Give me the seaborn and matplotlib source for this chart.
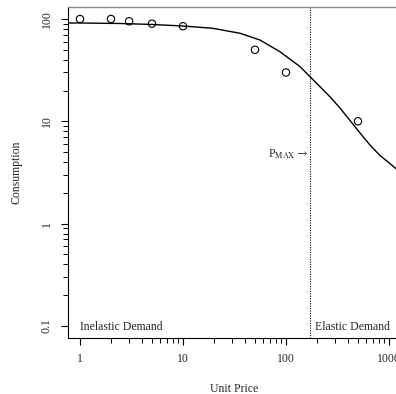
import numpy as np
import pandas as pd
import matplotlib
matplotlib.use("Agg")
import matplotlib.pyplot as plt
import seaborn as sns
from matplotlib.ticker import FixedLocator, NullFormatter

# observed data points
price = [1, 2, 3, 5, 10, 50, 100, 500]
consumption = [100, 100, 95, 90, 85, 50, 30, 10]

# fitted demand curve
curve_price = [0.765, 1, 2.44, 5, 10, 19.5, 35.8, 55.9, 87.4, 137, 171, 214,
               267, 334, 418, 523, 654, 818, 1023, 1280]
curve_cons = [91.4, 91.4, 90.4, 88.4, 85.4, 81.1, 72.5, 62.3, 47.9, 34.2, 27.3,
              21.8, 17.4, 13.5, 10.2, 7.69, 5.86, 4.63, 3.86, 3.19]

pmax = 170
x_ticks = [1, 10, 100, 1000]
x_labels = ["1", "10", "100", "1000"]
y_ticks = [0.1, 1, 10, 100]
y_labels = ["0.1", "1", "10", "100"]

sns.set_theme(style="ticks")
plt.rcParams["font.family"] = ["Liberation Serif", "DejaVu Serif"]
plt.rcParams["mathtext.fontset"] = "stix"

obs = pd.DataFrame({"price": price, "consumption": consumption})
fit = pd.DataFrame({"price": curve_price, "consumption": curve_cons})

fig = plt.figure(figsize=(3.96, 3.94), dpi=100)
ax = fig.add_axes([68 / 396, 56 / 394, 332 / 396, 331 / 394])

sns.lineplot(data=fit, x="price", y="consumption", ax=ax, color="black",
             lw=1.0, estimator=None, sort=False)
sns.scatterplot(data=obs, x="price", y="consumption", ax=ax, marker="o",
                s=28, facecolor="none", edgecolor="black", linewidth=0.8)

ax.set_xscale("log")
ax.set_yscale("log")
ax.set_xlim(0.765, 1279)
ax.set_ylim(0.0762, 131)

ax.axvline(pmax, color="black", ls=(0, (1, 1.2)), lw=0.8)

ax.text(163, 4.4, r"P$_{\mathrm{MAX}}$$\rightarrow$", ha="right", va="baseline",
        fontsize=8.5)
ax.text(1.0, 0.0912, "Inelastic Demand", ha="left", va="baseline", fontsize=8.5)
ax.text(191, 0.0912, "Elastic Demand", ha="left", va="baseline", fontsize=8.5)

# minor ticks only inside the labelled decades, like an R log axis
minor_x = [m * 10 ** d for d in range(0, 3) for m in range(2, 10)]
minor_y = [m * 10.0 ** d for d in range(-1, 2) for m in range(2, 10)]

ax.xaxis.set_major_locator(FixedLocator(x_ticks))
ax.set_xticklabels(x_labels)
ax.xaxis.set_minor_locator(FixedLocator(minor_x))
ax.xaxis.set_minor_formatter(NullFormatter())
ax.yaxis.set_major_locator(FixedLocator(y_ticks))
ax.set_yticklabels(y_labels)
ax.yaxis.set_minor_locator(FixedLocator(minor_y))
ax.yaxis.set_minor_formatter(NullFormatter())

ax.tick_params(which="major", direction="out", length=5, width=0.8,
               labelsize=8.5, color="black", pad=6)
ax.tick_params(which="minor", direction="out", length=3.5, width=0.7,
               color="black")
for lbl in ax.get_yticklabels():
    lbl.set_rotation(90)
    lbl.set_va("center")

for side in ["left", "bottom"]:
    ax.spines[side].set_color("black")
    ax.spines[side].set_linewidth(0.8)
ax.spines["top"].set_visible(True)
ax.spines["top"].set_color("#888888")
ax.spines["top"].set_linewidth(1.0)
ax.spines["right"].set_visible(False)

ax.set_xlabel("Unit Price", fontsize=8.5, labelpad=13)
ax.set_ylabel("Consumption", fontsize=8.5, labelpad=13)

fig.savefig("out.png", dpi=100)
